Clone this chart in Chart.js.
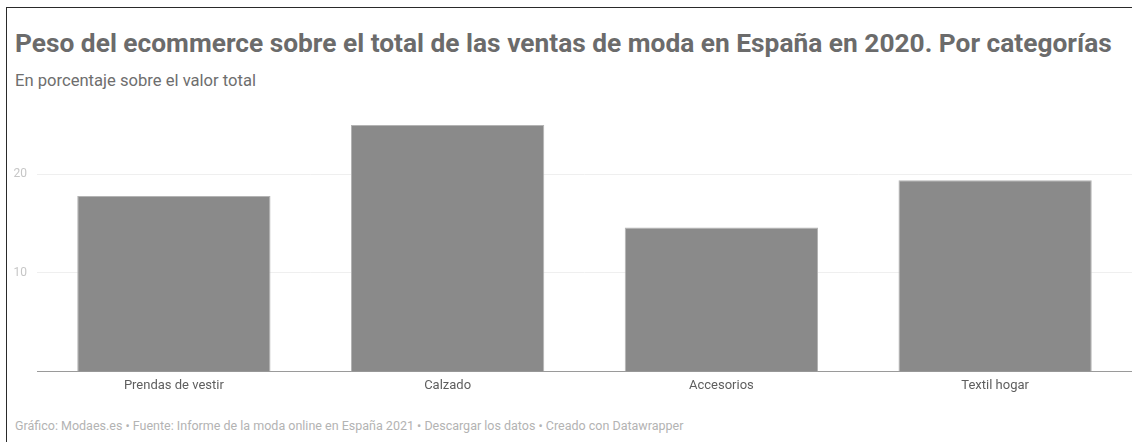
<!DOCTYPE html>
<html lang="es">
<head>
<meta charset="utf-8">
<script src="https://cdn.jsdelivr.net/npm/chart.js@4/dist/chart.umd.min.js"></script>
<style>
  html, body { margin: 0; padding: 0; background: #fff; }
  body { width: 1132px; height: 442px; position: relative; overflow: hidden; font-family: Roboto, "Noto Sans", sans-serif; }
  .frame { position: absolute; left: 6px; top: 7px; width: 1130px; height: 440px; border-left: 1px solid #2a2a2a; border-top: 1px solid #2a2a2a; }
  .title { position: absolute; left: 15px; top: 29.9px; font-size: 26.3px; line-height: 26.3px; font-weight: 700; color: #6b6b6b; white-space: nowrap; }
  .subtitle { position: absolute; left: 15px; top: 72.8px; font-size: 16.6px; line-height: 16.6px; color: #6e6e6e; white-space: nowrap; }
  .footer { position: absolute; left: 15px; top: 419.5px; font-size: 12.5px; line-height: 12.5px; color: #b3b3b3; white-space: nowrap; }
  .plot { position: absolute; left: 0; top: 100px; width: 1132px; height: 300px; }
</style>
</head>
<body>
<div class="frame"></div>
<div class="title">Peso del ecommerce sobre el total de las ventas de moda en España en 2020. Por categorías</div>
<div class="subtitle">En porcentaje sobre el valor total</div>
<div class="plot"><canvas id="chart" width="1132" height="300"></canvas></div>
<div class="footer">Gráfico: Modaes.es • Fuente: Informe de la moda online en España 2021 • Descargar los datos • Creado con Datawrapper</div>
<script>
// Share of online sales over total fashion sales, by category (%)
const categories = ['Prendas de vestir', 'Calzado', 'Accesorios', 'Textil hogar'];
const ecommerceShare = [17.8, 25.0, 14.6, 19.4];
const yTickValues = [10, 20];

new Chart(document.getElementById('chart'), {
  type: 'bar',
  data: {
    labels: categories,
    datasets: [{
      data: ecommerceShare,
      backgroundColor: '#8a8a8a',
      borderColor: '#b4b4b4',
      borderWidth: 1,
      categoryPercentage: 1,
      barPercentage: 0.706
    }]
  },
  options: {
    responsive: false,
    animation: false,
    layout: { padding: { top: 3.4, right: 0, left: 0, bottom: 0 } },
    plugins: { legend: { display: false }, tooltip: { enabled: false } },
    scales: {
      x: {
        grid: { display: false, drawTicks: false },
        border: { display: true, color: '#9a9a9a', width: 1 },
        ticks: { color: '#5e5e5e', font: { family: 'Roboto', size: 13 }, padding: 6, maxRotation: 0 },
        afterFit: s => { s.height = 28.5; }
      },
      y: {
        min: 0,
        max: 25.8,
        afterBuildTicks: s => { s.ticks = yTickValues.map(v => ({ value: v })); },
        grid: { color: '#efefef', lineWidth: 1, drawTicks: false },
        border: { display: false },
        ticks: { color: '#c6c6c6', font: { family: 'Roboto', size: 12 }, padding: 10 },
        afterFit: s => { s.width = 37; }
      }
    }
  }
});
</script>
</body>
</html>
